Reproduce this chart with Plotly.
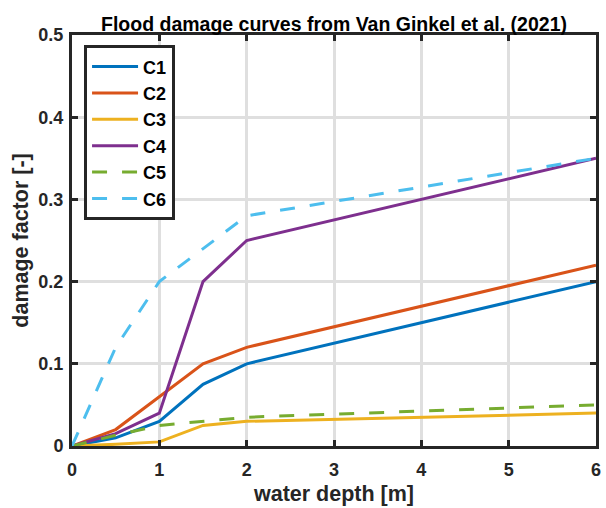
import plotly.graph_objects as go

# Water depth [m] at which each damage curve is defined
depth = [0, 0.5, 1, 1.5, 2, 6]

# Damage factor [-] for each curve
c1 = [0, 0.010, 0.030, 0.075, 0.100, 0.200]
c2 = [0, 0.020, 0.060, 0.100, 0.120, 0.220]
c3 = [0, 0.002, 0.005, 0.025, 0.030, 0.040]
c4 = [0, 0.015, 0.040, 0.200, 0.250, 0.350]
c5 = [0, 0.013, 0.025, 0.030, 0.035, 0.050]
c6 = [0, 0.120, 0.200, 0.240, 0.280, 0.350]

names = ["C1", "C2", "C3", "C4", "C5", "C6"]
curves = [c1, c2, c3, c4, c5, c6]
colors = ["#0072BD", "#D95319", "#EDB120", "#7E2F8E", "#77AC30", "#4DBEEE"]
dashes = ["solid", "solid", "solid", "solid", "15px,15px", "15px,15px"]

x_ticks = [0, 1, 2, 3, 4, 5, 6]
y_ticks = [0, 0.1, 0.2, 0.3, 0.4, 0.5]

FONT = "Liberation Sans, Arial, sans-serif"
INK = "#262626"

fig = go.Figure()
for name, y, col, dash in zip(names, curves, colors, dashes):
    fig.add_trace(go.Scatter(
        x=depth, y=y, name=name, mode="lines",
        line=dict(color=col, width=3, dash=dash),
    ))

axis_common = dict(
    showline=True, linecolor=INK, linewidth=3, mirror="allticks",
    ticks="inside", ticklen=6, tickwidth=3, tickcolor=INK,
    showgrid=True, gridcolor="#DFDFDF", gridwidth=2.5,
    zeroline=False,
    tickfont=dict(family=FONT, size=18, color=INK, weight="bold"),
)

fig.update_xaxes(
    range=[0, 6], tickvals=x_ticks, ticklabelstandoff=5,
    title=dict(text="water depth [m]", standoff=8,
               font=dict(family=FONT, size=21.5, color=INK, weight="bold")),
    **axis_common,
)
fig.update_yaxes(
    range=[0, 0.5], tickvals=y_ticks, ticklabelstandoff=2,
    title=dict(text="damage factor [-]", standoff=4,
               font=dict(family=FONT, size=21.5, color=INK, weight="bold")),
    **axis_common,
)

fig.update_layout(
    width=606, height=508,
    margin=dict(l=72, r=5, t=35, b=59),
    paper_bgcolor="white", plot_bgcolor="white",
    title=dict(text="Flood damage curves from Van Ginkel et al. (2021)",
               x=0.5, xref="paper", xanchor="center",
               y=1 - 24.5 / 508, yref="container", yanchor="middle",
               font=dict(family=FONT, size=19.5, color="black", weight="bold")),
    legend=dict(
        x=0.023, y=0.975, xanchor="left", yanchor="top",
        bgcolor="white", bordercolor=INK, borderwidth=3,
        font=dict(family=FONT, size=18, color="black", weight="bold"),
        itemwidth=46,
    ),
    showlegend=True,
)

fig.write_html("out.html")
